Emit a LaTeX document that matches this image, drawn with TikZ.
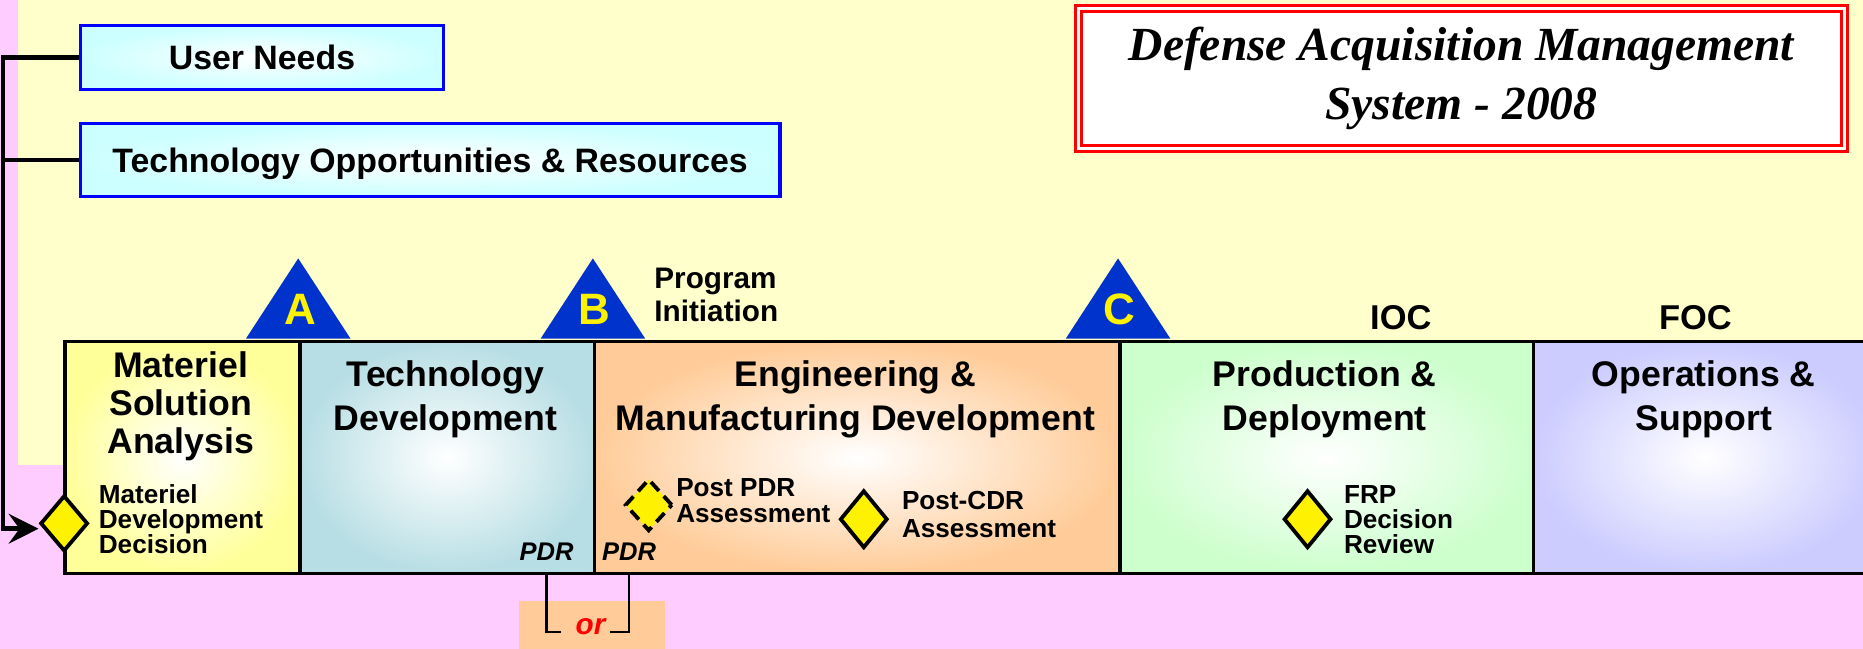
\documentclass[tikz,border=0pt]{standalone}
\usepackage{fontspec}
\setmainfont{Liberation Sans}
\newfontfamily\headfont{Liberation Serif}
\usetikzlibrary{shapes.geometric,arrows.meta}
\definecolor{bgpink}{RGB}{255,204,255}
\definecolor{bgyellow}{RGB}{255,255,204}
\definecolor{needcyan}{RGB}{204,255,255}
\definecolor{msacol}{RGB}{255,255,153}
\definecolor{tdcol}{RGB}{183,222,228}
\definecolor{emdcol}{RGB}{255,204,153}
\definecolor{pdcol}{RGB}{204,255,204}
\definecolor{oscol}{RGB}{204,204,255}
\definecolor{msblue}{RGB}{0,51,204}
\begin{document}
\begin{tikzpicture}[x=1pt,y=-1pt,
  need/.style={draw=blue, line width=2.8pt, inner color=white, outer color=needcyan, inner sep=0pt, text depth=0pt, font=\bfseries\fontsize{28.5}{34}\selectfont},
  phase/.style={draw, line width=3pt, inner sep=0pt, anchor=north west, minimum height=195pt, inner color=white, outer color=#1},
  ptitle/.style={anchor=base, align=center, inner sep=0pt, font=\bfseries\fontsize{30}{37}\selectfont},
  note/.style={anchor=base west, align=left, inner sep=0pt, font=\bfseries\fontsize{22}{21}\selectfont},
  pdr/.style={anchor=base, inner sep=0pt, font=\bfseries\itshape\fontsize{21.5}{21.5}\selectfont},
  mile/.style={anchor=base, inner sep=0pt, text=yellow, font=\bfseries\fontsize{37}{37}\selectfont},
  review/.style={diamond, draw, line width=3.2pt, fill=yellow, inner sep=0pt, minimum width=40pt, minimum height=47pt},
  feedline/.style={line width=4pt},
  bracket/.style={line width=2pt}]
\useasboundingbox (0,0) rectangle (1568,546);
\clip (0,0) rectangle (1568,546);
\fill[bgpink] (0,0) rectangle (1568,546);
\fill[bgyellow] (15,0) rectangle (1568,391.5);
\node[need, minimum width=306pt, minimum height=54pt] (un) at (220.5,48.5) {User Needs};
\node[need, minimum width=589pt, minimum height=61.7pt] (to) at (362,134.7) {Technology Opportunities \& Resources};
\node[draw=red, double=white, line width=2.4pt, double distance=2.5pt, fill=white, minimum width=644.7pt, minimum height=118.2pt, inner sep=0pt, align=center,
  font=\headfont\bfseries\itshape\fontsize{40}{49}\selectfont] (title) at (1230,66) {Defense Acquisition Management\\System - 2008};
\foreach \n/\x/\w/\c in {os/1289/290/oscol, pd/941/348/pdcol, emd/499/442/emdcol, td/251/248/tdcol, msa/53/198/msacol}
  \node[phase=\c, minimum width=\w pt] (\n) at (\x,286) {};
\foreach \x/\l in {251/A,499/B,941/C}{
  \fill[msblue] (\x-44,285) -- (\x,217.5) -- (\x+44,285) -- cycle;
  \node[mile] (m\l) at (\x+1.5,273.5) {\l};
}
\node[note, font=\bfseries\fontsize{25}{28}\selectfont] (pi) at (550.6,270.8) {Program\\Initiation};
\node[ptitle, font=\bfseries\fontsize{29}{29}\selectfont] (ioc) at (1179,277) {IOC};
\node[ptitle, font=\bfseries\fontsize{29}{29}\selectfont] (foc) at (1427,277) {FOC};
\node[ptitle, font=\bfseries\fontsize{30}{32}\selectfont] (msat) at (152,381.5) {Materiel\\Solution\\Analysis};
\node[ptitle] (tdt) at (375,362) {Technology\\Development};
\node[ptitle] (emdt) at (720,362) {Engineering \&\\Manufacturing Development};
\node[ptitle] (pdt) at (1115,362) {Production \&\\Deployment};
\node[ptitle] (ost) at (1434,362) {Operations \&\\Support};
\node[review] (mdd) at (54,440.5) {};
\node[review, minimum height=44pt, dash pattern=on 10pt off 6pt] (ppdr) at (546,425) {};
\node[review, minimum height=48.5pt] (pcdr) at (727,437) {};
\node[review, minimum height=48.5pt] (frp) at (1100.5,437) {};
\node[note] (mddt) at (83,466) {Materiel\\Development\\Decision};
\node[note, font=\bfseries\fontsize{22}{22.5}\selectfont] (ppdrt) at (569,440) {Post PDR\\Assessment};
\node[note, font=\bfseries\fontsize{22}{24}\selectfont] (pcdrt) at (759,452.6) {Post-CDR\\Assessment};
\node[note] (frpt) at (1131,466) {FRP\\Decision\\Review};
\node[pdr] (pdra) at (460,471.4) {PDR};
\node[pdr] (pdrb) at (529.5,472) {PDR};
\fill[emdcol] (437,506) rectangle (560,550);
\node[anchor=base, inner sep=0pt, text=red, font=\bfseries\itshape\fontsize{25}{25}\selectfont] (or) at (497,534) {or};
\coordinate (orl) at (472,532);
\coordinate (orr) at (513,532);
\draw[bracket] (pdra.south |- td.south) |- (orl);
\draw[bracket] (pdrb.south |- td.south) |- (orr);
\coordinate (feed) at (2.5,445);
\draw[feedline, -{Stealth[length=25pt, width=25pt, inset=9pt]}] (un.west) -| (feed) -- (mdd.west |- feed);
\draw[feedline] (to.west) -- (to.west -| feed);
\end{tikzpicture}
\end{document}
